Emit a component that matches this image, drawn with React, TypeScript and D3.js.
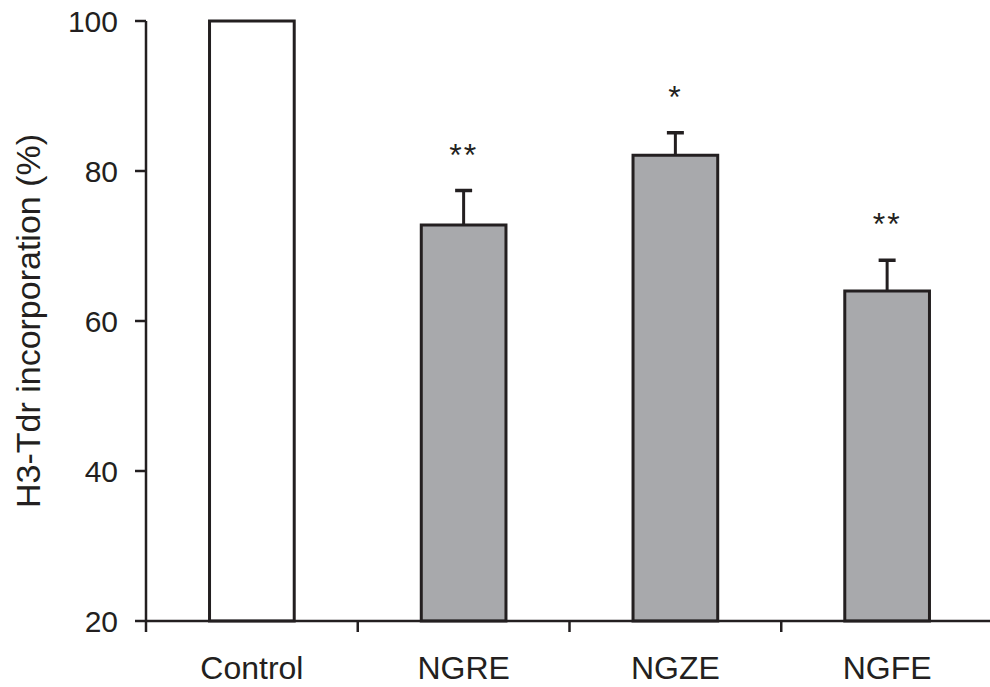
import React, { useEffect, useRef } from 'react';
import * as d3 from 'd3';

const categories = ['Control', 'NGRE', 'NGZE', 'NGFE'];
const values = [100, 72.8, 82.1, 64.0];
const errors = [0, 4.6, 3.0, 4.1];
const stars = ['', '**', '*', '**'];
const yTicks = [20, 40, 60, 80, 100];
const fills = ['#ffffff', '#a8a9ac', '#a8a9ac', '#a8a9ac'];

const App = () => {
  const ref = useRef<HTMLDivElement>(null);

  useEffect(() => {
    if (!ref.current) return;
    const width = 990;
    const height = 687;
    const left = 146;
    const right = 993;
    const top = 21;
    const bottom = 621;
    const ink = '#231f20';
    const font = '"Liberation Sans", Arial, sans-serif';

    d3.select(ref.current).selectAll('*').remove();

    const svg = d3.select(ref.current)
      .append('svg')
      .attr('width', width)
      .attr('height', height)
      .style('position', 'absolute')
      .style('left', 0)
      .style('top', 0)
      .style('background', '#fff');

    const x = d3.scaleBand<string>()
      .domain(categories)
      .range([left, right])
      .paddingInner(0.6)
      .paddingOuter(0.3);

    const y = d3.scaleLinear().domain([20, 100]).range([bottom, top]);

    const step = x.step();
    const bw = x.bandwidth();

    // bars
    svg.selectAll('rect.bar')
      .data(categories)
      .enter()
      .append('rect')
      .attr('class', 'bar')
      .attr('x', d => x(d)!)
      .attr('y', (d, i) => y(values[i]))
      .attr('width', bw)
      .attr('height', (d, i) => y(20) - y(values[i]))
      .attr('fill', (d, i) => fills[i])
      .attr('stroke', ink)
      .attr('stroke-width', 3);

    // error bars (upper only)
    const errData = categories
      .map((c, i) => ({ c, v: values[i], e: errors[i], s: stars[i] }))
      .filter(d => d.e > 0);

    const eg = svg.selectAll('g.err')
      .data(errData)
      .enter()
      .append('g')
      .attr('class', 'err');

    eg.append('line')
      .attr('x1', d => x(d.c)! + bw / 2)
      .attr('x2', d => x(d.c)! + bw / 2)
      .attr('y1', d => y(d.v))
      .attr('y2', d => y(d.v + d.e))
      .attr('stroke', ink)
      .attr('stroke-width', 3);

    eg.append('line')
      .attr('x1', d => x(d.c)! + bw / 2 - 8.5)
      .attr('x2', d => x(d.c)! + bw / 2 + 8.5)
      .attr('y1', d => y(d.v + d.e))
      .attr('y2', d => y(d.v + d.e))
      .attr('stroke', ink)
      .attr('stroke-width', 3.5);

    eg.append('text')
      .text(d => d.s)
      .attr('x', d => x(d.c)! + bw / 2)
      .attr('y', d => y(d.v + d.e) - 42 + 17)
      .attr('text-anchor', 'middle')
      .style('font-family', font)
      .style('font-size', '32px')
      .style('letter-spacing', '2px')
      .attr('fill', ink);

    // y axis
    const yAxis = svg.append('g').attr('transform', `translate(${left},0)`);
    yAxis.append('line')
      .attr('x1', 0).attr('x2', 0)
      .attr('y1', y(100)).attr('y2', y(20))
      .attr('stroke', ink).attr('stroke-width', 2.5);
    const yt = yAxis.selectAll('g.tick')
      .data(yTicks)
      .enter()
      .append('g')
      .attr('transform', d => `translate(0,${y(d)})`);
    yt.append('line')
      .attr('x1', -11).attr('x2', 0)
      .attr('stroke', ink).attr('stroke-width', 2.5);
    yt.append('text')
      .text(d => d)
      .attr('x', -28)
      .attr('dy', '0.36em')
      .attr('text-anchor', 'end')
      .style('font-family', font)
      .style('font-size', '30px')
      .attr('fill', ink);

    // x axis
    svg.append('line')
      .attr('x1', left - 1).attr('x2', width)
      .attr('y1', bottom).attr('y2', bottom)
      .attr('stroke', ink).attr('stroke-width', 2.5);
    const xTickPos = categories.map(c => x(c)! + bw / 2 - step / 2);
    svg.selectAll('line.xtick')
      .data(xTickPos)
      .enter()
      .append('line')
      .attr('class', 'xtick')
      .attr('x1', d => d).attr('x2', d => d)
      .attr('y1', bottom).attr('y2', bottom + 11)
      .attr('stroke', ink).attr('stroke-width', 2.5);
    svg.selectAll('text.xlab')
      .data(categories)
      .enter()
      .append('text')
      .attr('class', 'xlab')
      .text(d => d)
      .attr('x', d => x(d)! + bw / 2)
      .attr('y', 679)
      .attr('text-anchor', 'middle')
      .style('font-family', font)
      .style('font-size', '32px')
      .attr('fill', ink);

    // y label
    svg.append('text')
      .text('H3-Tdr incorporation (%)')
      .attr('transform', `translate(40,${(top + bottom) / 2}) rotate(-90)`)
      .attr('text-anchor', 'middle')
      .style('font-family', font)
      .style('font-size', '34px')
      .attr('fill', ink);
  }, []);

  return <div ref={ref} />;
};

export default App;
